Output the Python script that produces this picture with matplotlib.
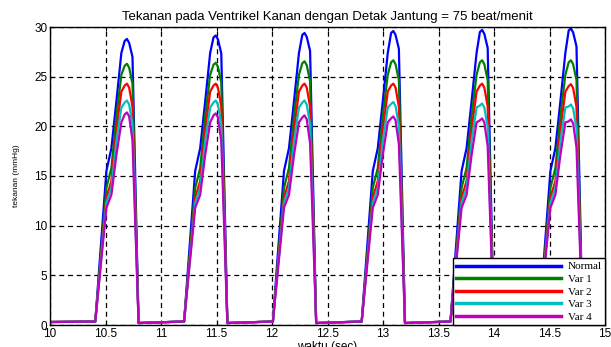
import numpy as np
import matplotlib
matplotlib.use("Agg")
import matplotlib.pyplot as plt

# beat onsets (sec), 75 beat/menit -> 0.8 s per beat
beat_onsets = [10.408, 11.208, 12.008, 12.808, 13.608, 14.408]

# shape of one beat: time offsets from onset (sec)
shape_t = [0.0, 0.10, 0.145, 0.19, 0.235, 0.265, 0.285, 0.305, 0.335, 0.39]

# first-beat shape values per series (mmHg)
normal_shape = [0.35, 15.5, 17.8, 22.5, 27.4, 28.6, 28.8, 28.4, 27.0, 0.2]
var1_shape   = [0.35, 13.8, 15.8, 21.0, 25.2, 26.1, 26.3, 25.9, 24.3, 0.2]
var2_shape   = [0.35, 12.8, 14.5, 19.6, 23.5, 24.1, 24.3, 23.9, 22.0, 0.2]
var3_shape   = [0.35, 12.3, 13.8, 18.5, 21.9, 22.4, 22.6, 22.2, 20.2, 0.2]
var4_shape   = [0.35, 11.8, 13.1, 17.1, 20.4, 21.2, 21.4, 21.0, 18.6, 0.2]

# peak value of every beat per series
normal_peaks = [28.8, 29.15, 29.4, 29.6, 29.7, 29.85]
var1_peaks   = [26.3, 26.4, 26.55, 26.65, 26.65, 26.65]
var2_peaks   = [24.3, 24.3, 24.3, 24.3, 24.3, 24.25]
var3_peaks   = [22.6, 22.6, 22.6, 22.45, 22.3, 22.2]
var4_peaks   = [21.4, 21.3, 21.1, 21.0, 20.8, 20.7]

labels = ["Normal", "Var 1", "Var 2", "Var 3", "Var 4"]
colors = ["#0000ff", "#008000", "#ff0000", "#00bfbf", "#bf00bf"]

t_start, t_end = 10.0, 15.0
PEAK_IDX = 6


def build_series(shape, peaks):
    t = [t_start]
    v = [0.3]
    for onset, peak in zip(beat_onsets, peaks):
        shift = peak - shape[PEAK_IDX]
        for i, (dt, val) in enumerate(zip(shape_t, shape)):
            t.append(onset + dt)
            v.append(val + shift if 5 <= i <= 8 else val)
    t.append(t_end)
    v.append(0.3)
    return t, v


series = [
    build_series(normal_shape, normal_peaks),
    build_series(var1_shape, var1_peaks),
    build_series(var2_shape, var2_peaks),
    build_series(var3_shape, var3_peaks),
    build_series(var4_shape, var4_peaks),
]

plt.rcParams['font.family'] = ['Liberation Sans', 'DejaVu Sans']

fig = plt.figure(figsize=(6.11, 3.47), dpi=100)
ax = fig.add_axes([50 / 611, 1 - 325 / 347, 555 / 611, 298 / 347])

for (t, v), lab, c in zip(series, labels, colors):
    ax.plot(t, v, color=c, lw=1.6, label=lab)

ax.set_xlim(t_start, t_end)
ax.set_ylim(0, 30)
ax.set_xticks(np.arange(10, 15.01, 0.5))
ax.set_xticklabels(["10", "10.5", "11", "11.5", "12", "12.5", "13", "13.5", "14", "14.5", "15"])
ax.set_yticks(np.arange(0, 31, 5))
ax.tick_params(direction='in', top=True, right=True, length=3, labelsize=8.5, pad=2)
ax.grid(True, color='black', linestyle=(0, (4, 3)), linewidth=0.9)
for s in ax.spines.values():
    s.set_linewidth(1.0)

ax.set_title("Tekanan pada Ventrikel Kanan dengan Detak Jantung = 75 beat/menit",
             fontsize=9.5, pad=5)
ax.set_xlabel("waktu (sec)", fontsize=8.5, labelpad=1)
ax.set_ylabel("tekanan (mmHg)", fontsize=6, labelpad=10)

leg = ax.legend(loc='lower right', borderaxespad=0, fancybox=False,
                prop={'family': 'Liberation Serif', 'size': 8},
                handlelength=9.4, labelspacing=0.25, borderpad=0.3,
                handletextpad=0.6, framealpha=1)
leg.get_frame().set_edgecolor('black')
leg.get_frame().set_linewidth(1.0)
for h in leg.get_lines():
    h.set_linewidth(2.5)

fig.savefig("out.png", dpi=100)
